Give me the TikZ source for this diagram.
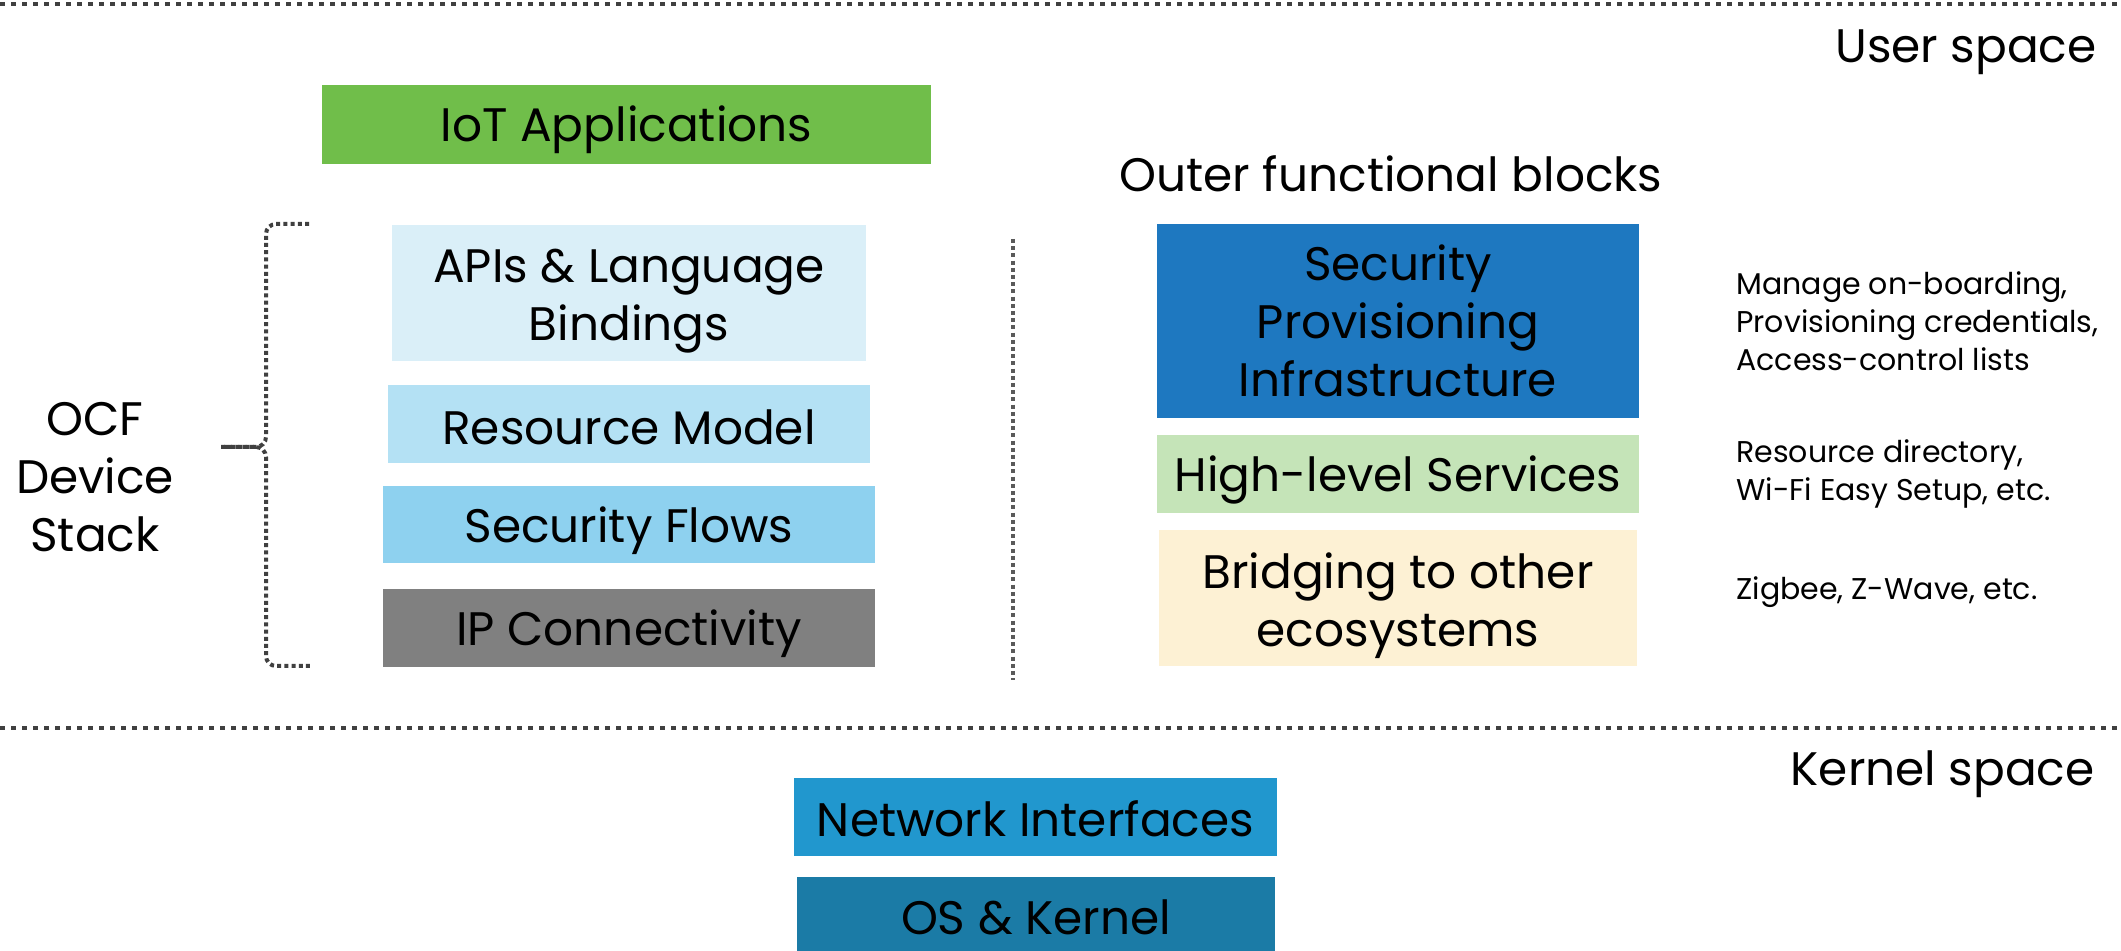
\documentclass[tikz,border=0pt]{standalone}
\usepackage{fontspec}
\setmainfont{Poppins}
\definecolor{iotc}{RGB}{112,190,74}
\definecolor{apic}{RGB}{218,239,248}
\definecolor{resc}{RGB}{180,225,244}
\definecolor{secc}{RGB}{142,209,239}
\definecolor{ipc}{RGB}{128,128,128}
\definecolor{spic}{RGB}{30,120,192}
\definecolor{hlsc}{RGB}{197,228,184}
\definecolor{bric}{RGB}{253,241,212}
\definecolor{netc}{RGB}{33,151,206}
\definecolor{osc}{RGB}{27,123,166}
\definecolor{dotc}{RGB}{64,64,64}
\definecolor{vdashc}{RGB}{90,90,90}
\begin{document}
\begin{tikzpicture}[x=0.5pt,y=-0.5pt,
  box/.style={inner sep=0pt, draw=none},
  txt/.style={inner sep=0pt, align=center, text=black, font=\fontsize{23.5}{29}\selectfont},
  lbl/.style={inner sep=0pt, text=black, font=\fontsize{23.5}{29}\selectfont},
  side/.style={inner sep=0pt, align=left, anchor=west, text=black, font=\fontsize{15}{19}\selectfont},
  dotline/.style={draw=dotc, line width=2pt, dash pattern=on 2.5pt off 3pt},
  vline/.style={draw=vdashc, line width=1.8pt, dash pattern=on 2pt off 1.6pt},
  brace/.style={draw=dotc, line width=2pt, dash pattern=on 2pt off 1.6pt, rounded corners=5pt}]
\useasboundingbox (0,0) rectangle (2121,951);
% separators
\coordinate (tl) at (0,4); \coordinate (tr) at (2121,4);
\draw[dotline] (tl) -- (tr);
\coordinate (bl) at (0,728); \coordinate (br) at (2121,728);
\draw[dotline] (bl) -- (br);
\coordinate (vt) at (1013,239); \coordinate (vb) at (1013,680);
\draw[vline] (vt) -- (vb);
% labels
\node[lbl, anchor=east] (user) at (2097,52) {User space};
\node[lbl, anchor=east] (kernel) at (2095,774) {Kernel space};
\node[lbl] (outer) at (1391,174) {Outer functional blocks};
\node[txt] (ocf) at (95,477) {OCF\\Device\\Stack};
% left stack
\node[box, fill=iotc, minimum width=304.5pt, minimum height=39.5pt] (iot) at (626.5,124.5) {};
\node[txt, yshift=-2.7pt] (iott) at (iot) {IoT Applications};
\node[box, fill=apic, minimum width=237pt, minimum height=68pt] (api) at (629,293) {};
\node[txt, yshift=-4.3pt] (apit) at (api) {APIs \& Language\\Bindings};
\node[box, fill=resc, minimum width=241pt, minimum height=39pt] (res) at (629,424) {};
\node[txt, yshift=-1.8pt] (rest) at (res) {Resource Model};
\node[box, fill=secc, minimum width=246pt, minimum height=38.5pt] (sec) at (629,524.5) {};
\node[txt, yshift=-3pt] (sect) at (sec) {Security Flows};
\node[box, fill=ipc, minimum width=246pt, minimum height=39pt] (ip) at (629,628) {};
\node[txt, yshift=-2.7pt] (ipt) at (ip) {IP Connectivity};
% right blocks
\node[box, fill=spic, minimum width=241pt, minimum height=97pt] (spi) at (1398,321) {};
\node[txt, yshift=0pt] (spit) at (spi) {Security\\Provisioning\\Infrastructure};
\node[box, fill=hlsc, minimum width=241pt, minimum height=39pt] (hls) at (1398,474) {};
\node[txt, yshift=-3pt] (hlst) at (hls) {High-level Services};
\node[box, fill=bric, minimum width=239pt, minimum height=68pt] (bri) at (1398,598) {};
\node[txt, yshift=-4pt] (brit) at (bri) {Bridging to other\\ecosystems};
% kernel
\node[box, fill=netc, minimum width=241.5pt, minimum height=39pt] (net) at (1035.5,817) {};
\node[txt, yshift=-1pt] (nett) at (net) {Network Interfaces};
\node[box, fill=osc, minimum width=239pt, minimum height=37pt] (os) at (1036,914) {};
\node[txt, yshift=-1.5pt] (ost) at (os) {OS \& Kernel};
% side notes
\node[side] (n1) at (1736,321) {Manage on-boarding,\\Provisioning credentials,\\Access-control lists};
\node[side] (n2) at (1736,474) {Resource directory,\\Wi-Fi Easy Setup, etc.};
\node[side] (n3) at (1736,592) {Zigbee, Z-Wave, etc.};
% brace
\coordinate (b1) at (309,224);
\coordinate (b2) at (266,224);
\coordinate (b3) at (266,447);
\coordinate (tip) at (221,447);
\coordinate (b5) at (266,666);
\coordinate (b6) at (312,666);
\draw[brace] (b1) -- (b2) -- (b3) -- (tip);
\draw[brace] (tip) -- (b3) -- (b5) -- (b6);
\end{tikzpicture}
\end{document}
